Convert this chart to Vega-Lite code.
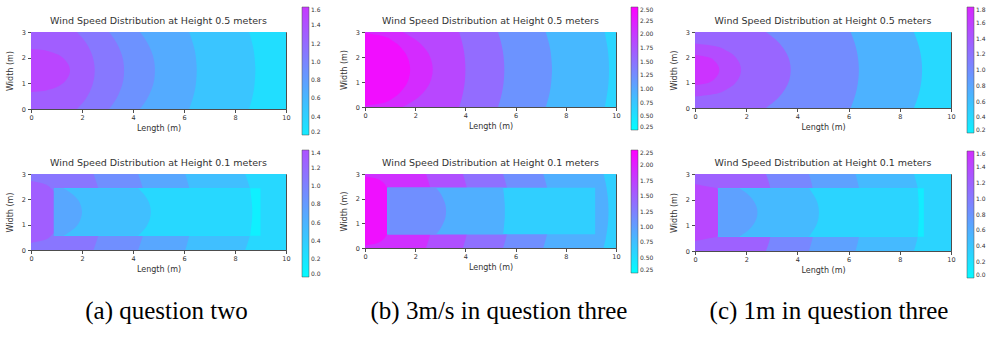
{
"$schema": "https://vega.github.io/schema/vega-lite/v6.json",
"background": "white",
"padding": {"left": 6, "top": 7, "right": 0, "bottom": 0},
"columns": 6,
"align": "none",
"bounds": "flush",
"spacing": {"row": 0, "column": 0},
"resolve": {"scale": {"color": "independent", "x": "independent", "y": "independent"}, "legend": {"color": "independent"}},
"datasets": {
"a1bg": [{"x0": 0, "x": 10, "y0": 0, "y": 3, "v": 0.3}],
"a1o": [
{"b":1,"v":0.5,"x0":0,"y":0,"x":8.55},{"b":1,"v":0.5,"x0":0,"y":0.375,"x":8.66},{"b":1,"v":0.5,"x0":0,"y":0.75,"x":8.74},{"b":1,"v":0.5,"x0":0,"y":1.125,"x":8.78},{"b":1,"v":0.5,"x0":0,"y":1.5,"x":8.8},{"b":1,"v":0.5,"x0":0,"y":1.875,"x":8.78},{"b":1,"v":0.5,"x0":0,"y":2.25,"x":8.74},{"b":1,"v":0.5,"x0":0,"y":2.625,"x":8.66},{"b":1,"v":0.5,"x0":0,"y":3,"x":8.55},
{"b":2,"v":0.7,"x0":0,"y":0,"x":6.2},{"b":2,"v":0.7,"x0":0,"y":0.375,"x":6.33},{"b":2,"v":0.7,"x0":0,"y":0.75,"x":6.43},{"b":2,"v":0.7,"x0":0,"y":1.125,"x":6.48},{"b":2,"v":0.7,"x0":0,"y":1.5,"x":6.5},{"b":2,"v":0.7,"x0":0,"y":1.875,"x":6.48},{"b":2,"v":0.7,"x0":0,"y":2.25,"x":6.43},{"b":2,"v":0.7,"x0":0,"y":2.625,"x":6.33},{"b":2,"v":0.7,"x0":0,"y":3,"x":6.2},
{"b":3,"v":0.9,"x0":0,"y":0,"x":4.27},{"b":3,"v":0.9,"x0":0,"y":0.375,"x":4.54},{"b":3,"v":0.9,"x0":0,"y":0.75,"x":4.72},{"b":3,"v":0.9,"x0":0,"y":1.125,"x":4.83},{"b":3,"v":0.9,"x0":0,"y":1.5,"x":4.86},{"b":3,"v":0.9,"x0":0,"y":1.875,"x":4.83},{"b":3,"v":0.9,"x0":0,"y":2.25,"x":4.72},{"b":3,"v":0.9,"x0":0,"y":2.625,"x":4.54},{"b":3,"v":0.9,"x0":0,"y":3,"x":4.27},
{"b":4,"v":1.1,"x0":0,"y":0,"x":3.06},{"b":4,"v":1.1,"x0":0,"y":0.375,"x":3.33},{"b":4,"v":1.1,"x0":0,"y":0.75,"x":3.51},{"b":4,"v":1.1,"x0":0,"y":1.125,"x":3.62},{"b":4,"v":1.1,"x0":0,"y":1.5,"x":3.65},{"b":4,"v":1.1,"x0":0,"y":1.875,"x":3.62},{"b":4,"v":1.1,"x0":0,"y":2.25,"x":3.51},{"b":4,"v":1.1,"x0":0,"y":2.625,"x":3.33},{"b":4,"v":1.1,"x0":0,"y":3,"x":3.06},
{"b":5,"v":1.3,"x0":0,"y":0,"x":1.8},{"b":5,"v":1.3,"x0":0,"y":0.375,"x":2.13},{"b":5,"v":1.3,"x0":0,"y":0.75,"x":2.34},{"b":5,"v":1.3,"x0":0,"y":1.125,"x":2.46},{"b":5,"v":1.3,"x0":0,"y":1.5,"x":2.5},{"b":5,"v":1.3,"x0":0,"y":1.875,"x":2.46},{"b":5,"v":1.3,"x0":0,"y":2.25,"x":2.34},{"b":5,"v":1.3,"x0":0,"y":2.625,"x":2.13},{"b":5,"v":1.3,"x0":0,"y":3,"x":1.8},
{"b":6,"v":1.5,"x0":0,"y":0.66,"x":0},{"b":6,"v":1.5,"x0":0,"y":0.7,"x":0.47},{"b":6,"v":1.5,"x0":0,"y":0.75,"x":0.69},{"b":6,"v":1.5,"x0":0,"y":1.125,"x":1.37},{"b":6,"v":1.5,"x0":0,"y":1.5,"x":1.53},{"b":6,"v":1.5,"x0":0,"y":1.875,"x":1.37},{"b":6,"v":1.5,"x0":0,"y":2.25,"x":0.69},{"b":6,"v":1.5,"x0":0,"y":2.3,"x":0.47},{"b":6,"v":1.5,"x0":0,"y":2.34,"x":0}
],
"a2bg": [{"x0": 0, "x": 10, "y0": 0, "y": 3, "v": 0.3}],
"a2o": [
{"b":1,"v":0.5,"x0":0,"y":0,"x":8.4},{"b":1,"v":0.5,"x0":0,"y":0.375,"x":8.53},{"b":1,"v":0.5,"x0":0,"y":0.75,"x":8.63},{"b":1,"v":0.5,"x0":0,"y":1.125,"x":8.68},{"b":1,"v":0.5,"x0":0,"y":1.5,"x":8.7},{"b":1,"v":0.5,"x0":0,"y":1.875,"x":8.68},{"b":1,"v":0.5,"x0":0,"y":2.25,"x":8.63},{"b":1,"v":0.5,"x0":0,"y":2.625,"x":8.53},{"b":1,"v":0.5,"x0":0,"y":3,"x":8.4},
{"b":2,"v":0.7,"x0":0,"y":0,"x":6.05},{"b":2,"v":0.7,"x0":0,"y":0.375,"x":6.16},{"b":2,"v":0.7,"x0":0,"y":0.75,"x":6.24},{"b":2,"v":0.7,"x0":0,"y":1.125,"x":6.28},{"b":2,"v":0.7,"x0":0,"y":1.5,"x":6.3},{"b":2,"v":0.7,"x0":0,"y":1.875,"x":6.28},{"b":2,"v":0.7,"x0":0,"y":2.25,"x":6.24},{"b":2,"v":0.7,"x0":0,"y":2.625,"x":6.16},{"b":2,"v":0.7,"x0":0,"y":3,"x":6.05},
{"b":3,"v":0.9,"x0":0,"y":0,"x":4.2},{"b":3,"v":0.9,"x0":0,"y":0.375,"x":4.33},{"b":3,"v":0.9,"x0":0,"y":0.75,"x":4.43},{"b":3,"v":0.9,"x0":0,"y":1.125,"x":4.48},{"b":3,"v":0.9,"x0":0,"y":1.5,"x":4.5},{"b":3,"v":0.9,"x0":0,"y":1.875,"x":4.48},{"b":3,"v":0.9,"x0":0,"y":2.25,"x":4.43},{"b":3,"v":0.9,"x0":0,"y":2.625,"x":4.33},{"b":3,"v":0.9,"x0":0,"y":3,"x":4.2},
{"b":4,"v":1.1,"x0":0,"y":0,"x":2.45},{"b":4,"v":1.1,"x0":0,"y":0.375,"x":2.58},{"b":4,"v":1.1,"x0":0,"y":0.75,"x":2.68},{"b":4,"v":1.1,"x0":0,"y":1.125,"x":2.73},{"b":4,"v":1.1,"x0":0,"y":1.5,"x":2.75},{"b":4,"v":1.1,"x0":0,"y":1.875,"x":2.73},{"b":4,"v":1.1,"x0":0,"y":2.25,"x":2.68},{"b":4,"v":1.1,"x0":0,"y":2.625,"x":2.58},{"b":4,"v":1.1,"x0":0,"y":3,"x":2.45},
{"b":5,"v":1.3,"x0":0,"y":0.28,"x":0},{"b":5,"v":1.3,"x0":0,"y":0.4,"x":0.55},{"b":5,"v":1.3,"x0":0,"y":0.58,"x":0.8},{"b":5,"v":1.3,"x0":0,"y":0.9,"x":1.0},{"b":5,"v":1.3,"x0":0,"y":1.5,"x":1.05},{"b":5,"v":1.3,"x0":0,"y":2.1,"x":1.0},{"b":5,"v":1.3,"x0":0,"y":2.42,"x":0.8},{"b":5,"v":1.3,"x0":0,"y":2.6,"x":0.55},{"b":5,"v":1.3,"x0":0,"y":2.72,"x":0}
],
"a2box": [{"x0": 0.9, "x": 9.0, "y0": 0.56, "y": 2.44, "v": 0.1}],
"a2i": [
{"b":1,"v":0.3,"x0":0.9,"y":0.56,"x":8.6},{"b":1,"v":0.3,"x0":0.9,"y":0.795,"x":8.62},{"b":1,"v":0.3,"x0":0.9,"y":1.03,"x":8.65},{"b":1,"v":0.3,"x0":0.9,"y":1.265,"x":8.67},{"b":1,"v":0.3,"x0":0.9,"y":1.5,"x":8.68},{"b":1,"v":0.3,"x0":0.9,"y":1.735,"x":8.67},{"b":1,"v":0.3,"x0":0.9,"y":1.97,"x":8.65},{"b":1,"v":0.3,"x0":0.9,"y":2.205,"x":8.62},{"b":1,"v":0.3,"x0":0.9,"y":2.44,"x":8.6},
{"b":2,"v":0.5,"x0":0.9,"y":0.56,"x":4.2},{"b":2,"v":0.5,"x0":0.9,"y":0.795,"x":4.43},{"b":2,"v":0.5,"x0":0.9,"y":1.03,"x":4.58},{"b":2,"v":0.5,"x0":0.9,"y":1.265,"x":4.67},{"b":2,"v":0.5,"x0":0.9,"y":1.5,"x":4.7},{"b":2,"v":0.5,"x0":0.9,"y":1.735,"x":4.67},{"b":2,"v":0.5,"x0":0.9,"y":1.97,"x":4.58},{"b":2,"v":0.5,"x0":0.9,"y":2.205,"x":4.43},{"b":2,"v":0.5,"x0":0.9,"y":2.44,"x":4.2},
{"b":3,"v":0.7,"x0":0.9,"y":0.56,"x":1.28},{"b":3,"v":0.7,"x0":0.9,"y":0.795,"x":1.63},{"b":3,"v":0.7,"x0":0.9,"y":1.03,"x":1.85},{"b":3,"v":0.7,"x0":0.9,"y":1.265,"x":1.96},{"b":3,"v":0.7,"x0":0.9,"y":1.5,"x":2.0},{"b":3,"v":0.7,"x0":0.9,"y":1.735,"x":1.96},{"b":3,"v":0.7,"x0":0.9,"y":1.97,"x":1.85},{"b":3,"v":0.7,"x0":0.9,"y":2.205,"x":1.63},{"b":3,"v":0.7,"x0":0.9,"y":2.44,"x":1.28}
],
"b1bg": [{"x0": 0, "x": 10, "y0": 0, "y": 3, "v": 0.625}],
"b1o": [
{"b":1,"v":0.875,"x0":0,"y":0,"x":9.55},{"b":1,"v":0.875,"x0":0,"y":0.375,"x":9.62},{"b":1,"v":0.875,"x0":0,"y":0.75,"x":9.68},{"b":1,"v":0.875,"x0":0,"y":1.125,"x":9.71},{"b":1,"v":0.875,"x0":0,"y":1.5,"x":9.72},{"b":1,"v":0.875,"x0":0,"y":1.875,"x":9.71},{"b":1,"v":0.875,"x0":0,"y":2.25,"x":9.68},{"b":1,"v":0.875,"x0":0,"y":2.625,"x":9.62},{"b":1,"v":0.875,"x0":0,"y":3,"x":9.55},
{"b":2,"v":1.2,"x0":0,"y":0,"x":7.2},{"b":2,"v":1.2,"x0":0,"y":0.375,"x":7.31},{"b":2,"v":1.2,"x0":0,"y":0.75,"x":7.39},{"b":2,"v":1.2,"x0":0,"y":1.125,"x":7.43},{"b":2,"v":1.2,"x0":0,"y":1.5,"x":7.45},{"b":2,"v":1.2,"x0":0,"y":1.875,"x":7.43},{"b":2,"v":1.2,"x0":0,"y":2.25,"x":7.39},{"b":2,"v":1.2,"x0":0,"y":2.625,"x":7.31},{"b":2,"v":1.2,"x0":0,"y":3,"x":7.2},
{"b":3,"v":1.55,"x0":0,"y":0,"x":5.3},{"b":3,"v":1.55,"x0":0,"y":0.375,"x":5.41},{"b":3,"v":1.55,"x0":0,"y":0.75,"x":5.49},{"b":3,"v":1.55,"x0":0,"y":1.125,"x":5.535},{"b":3,"v":1.55,"x0":0,"y":1.5,"x":5.55},{"b":3,"v":1.55,"x0":0,"y":1.875,"x":5.535},{"b":3,"v":1.55,"x0":0,"y":2.25,"x":5.49},{"b":3,"v":1.55,"x0":0,"y":2.625,"x":5.41},{"b":3,"v":1.55,"x0":0,"y":3,"x":5.3},
{"b":4,"v":1.875,"x0":0,"y":0,"x":3.75},{"b":4,"v":1.875,"x0":0,"y":0.375,"x":3.86},{"b":4,"v":1.875,"x0":0,"y":0.75,"x":3.94},{"b":4,"v":1.875,"x0":0,"y":1.125,"x":3.985},{"b":4,"v":1.875,"x0":0,"y":1.5,"x":4.0},{"b":4,"v":1.875,"x0":0,"y":1.875,"x":3.985},{"b":4,"v":1.875,"x0":0,"y":2.25,"x":3.94},{"b":4,"v":1.875,"x0":0,"y":2.625,"x":3.86},{"b":4,"v":1.875,"x0":0,"y":3,"x":3.75},
{"b":5,"v":2.125,"x0":0,"y":0,"x":1.5},{"b":5,"v":2.125,"x0":0,"y":0.375,"x":2.11},{"b":5,"v":2.125,"x0":0,"y":0.75,"x":2.46},{"b":5,"v":2.125,"x0":0,"y":1.125,"x":2.64},{"b":5,"v":2.125,"x0":0,"y":1.5,"x":2.7},{"b":5,"v":2.125,"x0":0,"y":1.875,"x":2.64},{"b":5,"v":2.125,"x0":0,"y":2.25,"x":2.46},{"b":5,"v":2.125,"x0":0,"y":2.625,"x":2.11},{"b":5,"v":2.125,"x0":0,"y":3,"x":1.5},
{"b":6,"v":2.375,"x0":0,"y":0.05,"x":0},{"b":6,"v":2.375,"x0":0,"y":0.15,"x":0.66},{"b":6,"v":2.375,"x0":0,"y":0.375,"x":1.14},{"b":6,"v":2.375,"x0":0,"y":0.75,"x":1.54},{"b":6,"v":2.375,"x0":0,"y":1.125,"x":1.74},{"b":6,"v":2.375,"x0":0,"y":1.5,"x":1.8},{"b":6,"v":2.375,"x0":0,"y":1.875,"x":1.74},{"b":6,"v":2.375,"x0":0,"y":2.25,"x":1.54},{"b":6,"v":2.375,"x0":0,"y":2.625,"x":1.14},{"b":6,"v":2.375,"x0":0,"y":2.85,"x":0.66},{"b":6,"v":2.375,"x0":0,"y":2.95,"x":0}
],
"b2bg": [{"x0": 0, "x": 10, "y0": 0, "y": 3, "v": 0.625}],
"b2o": [
{"b":1,"v":0.875,"x0":0,"y":0,"x":9.5},{"b":1,"v":0.875,"x0":0,"y":0.375,"x":9.59},{"b":1,"v":0.875,"x0":0,"y":0.75,"x":9.65},{"b":1,"v":0.875,"x0":0,"y":1.125,"x":9.69},{"b":1,"v":0.875,"x0":0,"y":1.5,"x":9.7},{"b":1,"v":0.875,"x0":0,"y":1.875,"x":9.69},{"b":1,"v":0.875,"x0":0,"y":2.25,"x":9.65},{"b":1,"v":0.875,"x0":0,"y":2.625,"x":9.59},{"b":1,"v":0.875,"x0":0,"y":3,"x":9.5},
{"b":2,"v":1.125,"x0":0,"y":0,"x":7.1},{"b":2,"v":1.125,"x0":0,"y":0.375,"x":7.21},{"b":2,"v":1.125,"x0":0,"y":0.75,"x":7.29},{"b":2,"v":1.125,"x0":0,"y":1.125,"x":7.33},{"b":2,"v":1.125,"x0":0,"y":1.5,"x":7.35},{"b":2,"v":1.125,"x0":0,"y":1.875,"x":7.33},{"b":2,"v":1.125,"x0":0,"y":2.25,"x":7.29},{"b":2,"v":1.125,"x0":0,"y":2.625,"x":7.21},{"b":2,"v":1.125,"x0":0,"y":3,"x":7.1},
{"b":3,"v":1.375,"x0":0,"y":0,"x":5.5},{"b":3,"v":1.375,"x0":0,"y":0.375,"x":5.61},{"b":3,"v":1.375,"x0":0,"y":0.75,"x":5.69},{"b":3,"v":1.375,"x0":0,"y":1.125,"x":5.73},{"b":3,"v":1.375,"x0":0,"y":1.5,"x":5.75},{"b":3,"v":1.375,"x0":0,"y":1.875,"x":5.73},{"b":3,"v":1.375,"x0":0,"y":2.25,"x":5.69},{"b":3,"v":1.375,"x0":0,"y":2.625,"x":5.61},{"b":3,"v":1.375,"x0":0,"y":3,"x":5.5},
{"b":4,"v":1.625,"x0":0,"y":0,"x":3.9},{"b":4,"v":1.625,"x0":0,"y":0.375,"x":4.01},{"b":4,"v":1.625,"x0":0,"y":0.75,"x":4.09},{"b":4,"v":1.625,"x0":0,"y":1.125,"x":4.13},{"b":4,"v":1.625,"x0":0,"y":1.5,"x":4.15},{"b":4,"v":1.625,"x0":0,"y":1.875,"x":4.13},{"b":4,"v":1.625,"x0":0,"y":2.25,"x":4.09},{"b":4,"v":1.625,"x0":0,"y":2.625,"x":4.01},{"b":4,"v":1.625,"x0":0,"y":3,"x":3.9},
{"b":5,"v":1.875,"x0":0,"y":0,"x":2.43},{"b":5,"v":1.875,"x0":0,"y":0.375,"x":2.55},{"b":5,"v":1.875,"x0":0,"y":0.75,"x":2.64},{"b":5,"v":1.875,"x0":0,"y":1.125,"x":2.68},{"b":5,"v":1.875,"x0":0,"y":1.5,"x":2.7},{"b":5,"v":1.875,"x0":0,"y":1.875,"x":2.68},{"b":5,"v":1.875,"x0":0,"y":2.25,"x":2.64},{"b":5,"v":1.875,"x0":0,"y":2.625,"x":2.55},{"b":5,"v":1.875,"x0":0,"y":3,"x":2.43},
{"b":6,"v":2.125,"x0":0,"y":0.1,"x":0},{"b":6,"v":2.125,"x0":0,"y":0.2,"x":0.5},{"b":6,"v":2.125,"x0":0,"y":0.56,"x":0.88},{"b":6,"v":2.125,"x0":0,"y":1.0,"x":1.0},{"b":6,"v":2.125,"x0":0,"y":1.5,"x":1.05},{"b":6,"v":2.125,"x0":0,"y":2.0,"x":1.0},{"b":6,"v":2.125,"x0":0,"y":2.44,"x":0.88},{"b":6,"v":2.125,"x0":0,"y":2.8,"x":0.5},{"b":6,"v":2.125,"x0":0,"y":2.9,"x":0}
],
"b2box": [{"x0": 0.89, "x": 9.17, "y0": 0.56, "y": 2.44, "v": 0.625}],
"b2i": [
{"b":1,"v":0.875,"x0":0.89,"y":0.56,"x":5.5},{"b":1,"v":0.875,"x0":0.89,"y":0.795,"x":5.53},{"b":1,"v":0.875,"x0":0.89,"y":1.03,"x":5.55},{"b":1,"v":0.875,"x0":0.89,"y":1.265,"x":5.57},{"b":1,"v":0.875,"x0":0.89,"y":1.5,"x":5.57},{"b":1,"v":0.875,"x0":0.89,"y":1.735,"x":5.57},{"b":1,"v":0.875,"x0":0.89,"y":1.97,"x":5.55},{"b":1,"v":0.875,"x0":0.89,"y":2.205,"x":5.53},{"b":1,"v":0.875,"x0":0.89,"y":2.44,"x":5.5},
{"b":2,"v":1.125,"x0":0.89,"y":0.56,"x":2.83},{"b":2,"v":1.125,"x0":0.89,"y":0.795,"x":3.01},{"b":2,"v":1.125,"x0":0.89,"y":1.03,"x":3.13},{"b":2,"v":1.125,"x0":0.89,"y":1.265,"x":3.21},{"b":2,"v":1.125,"x0":0.89,"y":1.5,"x":3.23},{"b":2,"v":1.125,"x0":0.89,"y":1.735,"x":3.21},{"b":2,"v":1.125,"x0":0.89,"y":1.97,"x":3.13},{"b":2,"v":1.125,"x0":0.89,"y":2.205,"x":3.01},{"b":2,"v":1.125,"x0":0.89,"y":2.44,"x":2.83}
],
"c1bg": [{"x0": 0, "x": 10, "y0": 0, "y": 3, "v": 0.4}],
"c1o": [
{"b":1,"v":0.7,"x0":0,"y":0,"x":8.55},{"b":1,"v":0.7,"x0":0,"y":0.375,"x":8.69},{"b":1,"v":0.7,"x0":0,"y":0.75,"x":8.79},{"b":1,"v":0.7,"x0":0,"y":1.125,"x":8.85},{"b":1,"v":0.7,"x0":0,"y":1.5,"x":8.87},{"b":1,"v":0.7,"x0":0,"y":1.875,"x":8.85},{"b":1,"v":0.7,"x0":0,"y":2.25,"x":8.79},{"b":1,"v":0.7,"x0":0,"y":2.625,"x":8.69},{"b":1,"v":0.7,"x0":0,"y":3,"x":8.55},
{"b":2,"v":1.0,"x0":0,"y":0,"x":6.08},{"b":2,"v":1.0,"x0":0,"y":0.375,"x":6.22},{"b":2,"v":1.0,"x0":0,"y":0.75,"x":6.32},{"b":2,"v":1.0,"x0":0,"y":1.125,"x":6.38},{"b":2,"v":1.0,"x0":0,"y":1.5,"x":6.4},{"b":2,"v":1.0,"x0":0,"y":1.875,"x":6.38},{"b":2,"v":1.0,"x0":0,"y":2.25,"x":6.32},{"b":2,"v":1.0,"x0":0,"y":2.625,"x":6.22},{"b":2,"v":1.0,"x0":0,"y":3,"x":6.08},
{"b":3,"v":1.3,"x0":0,"y":0,"x":2.77},{"b":3,"v":1.3,"x0":0,"y":0.375,"x":3.23},{"b":3,"v":1.3,"x0":0,"y":0.75,"x":3.52},{"b":3,"v":1.3,"x0":0,"y":1.125,"x":3.69},{"b":3,"v":1.3,"x0":0,"y":1.5,"x":3.74},{"b":3,"v":1.3,"x0":0,"y":1.875,"x":3.69},{"b":3,"v":1.3,"x0":0,"y":2.25,"x":3.52},{"b":3,"v":1.3,"x0":0,"y":2.625,"x":3.23},{"b":3,"v":1.3,"x0":0,"y":3,"x":2.77},
{"b":4,"v":1.5,"x0":0,"y":0.45,"x":0},{"b":4,"v":1.5,"x0":0,"y":0.55,"x":0.77},{"b":4,"v":1.5,"x0":0,"y":0.75,"x":1.26},{"b":4,"v":1.5,"x0":0,"y":1.125,"x":1.68},{"b":4,"v":1.5,"x0":0,"y":1.5,"x":1.8},{"b":4,"v":1.5,"x0":0,"y":1.875,"x":1.68},{"b":4,"v":1.5,"x0":0,"y":2.25,"x":1.26},{"b":4,"v":1.5,"x0":0,"y":2.45,"x":0.77},{"b":4,"v":1.5,"x0":0,"y":2.55,"x":0},
{"b":5,"v":1.7,"x0":0,"y":0.9,"x":0},{"b":5,"v":1.7,"x0":0,"y":1.0,"x":0.53},{"b":5,"v":1.7,"x0":0,"y":1.125,"x":0.74},{"b":5,"v":1.7,"x0":0,"y":1.5,"x":0.95},{"b":5,"v":1.7,"x0":0,"y":1.875,"x":0.74},{"b":5,"v":1.7,"x0":0,"y":2.0,"x":0.53},{"b":5,"v":1.7,"x0":0,"y":2.1,"x":0}
],
"c2bg": [{"x0": 0, "x": 10, "y0": 0, "y": 3, "v": 0.3}],
"c2o": [
{"b":1,"v":0.5,"x0":0,"y":0,"x":8.55},{"b":1,"v":0.5,"x0":0,"y":0.375,"x":8.66},{"b":1,"v":0.5,"x0":0,"y":0.75,"x":8.74},{"b":1,"v":0.5,"x0":0,"y":1.125,"x":8.78},{"b":1,"v":0.5,"x0":0,"y":1.5,"x":8.8},{"b":1,"v":0.5,"x0":0,"y":1.875,"x":8.78},{"b":1,"v":0.5,"x0":0,"y":2.25,"x":8.74},{"b":1,"v":0.5,"x0":0,"y":2.625,"x":8.66},{"b":1,"v":0.5,"x0":0,"y":3,"x":8.55},
{"b":2,"v":0.7,"x0":0,"y":0,"x":6.27},{"b":2,"v":0.7,"x0":0,"y":0.375,"x":6.37},{"b":2,"v":0.7,"x0":0,"y":0.75,"x":6.44},{"b":2,"v":0.7,"x0":0,"y":1.125,"x":6.49},{"b":2,"v":0.7,"x0":0,"y":1.5,"x":6.5},{"b":2,"v":0.7,"x0":0,"y":1.875,"x":6.49},{"b":2,"v":0.7,"x0":0,"y":2.25,"x":6.44},{"b":2,"v":0.7,"x0":0,"y":2.625,"x":6.37},{"b":2,"v":0.7,"x0":0,"y":3,"x":6.27},
{"b":3,"v":0.9,"x0":0,"y":0,"x":4.45},{"b":3,"v":0.9,"x0":0,"y":0.375,"x":4.56},{"b":3,"v":0.9,"x0":0,"y":0.75,"x":4.64},{"b":3,"v":0.9,"x0":0,"y":1.125,"x":4.68},{"b":3,"v":0.9,"x0":0,"y":1.5,"x":4.7},{"b":3,"v":0.9,"x0":0,"y":1.875,"x":4.68},{"b":3,"v":0.9,"x0":0,"y":2.25,"x":4.64},{"b":3,"v":0.9,"x0":0,"y":2.625,"x":4.56},{"b":3,"v":0.9,"x0":0,"y":3,"x":4.45},
{"b":4,"v":1.2,"x0":0,"y":0,"x":2.77},{"b":4,"v":1.2,"x0":0,"y":0.375,"x":2.9},{"b":4,"v":1.2,"x0":0,"y":0.75,"x":2.98},{"b":4,"v":1.2,"x0":0,"y":1.125,"x":3.03},{"b":4,"v":1.2,"x0":0,"y":1.5,"x":3.05},{"b":4,"v":1.2,"x0":0,"y":1.875,"x":3.03},{"b":4,"v":1.2,"x0":0,"y":2.25,"x":2.98},{"b":4,"v":1.2,"x0":0,"y":2.625,"x":2.9},{"b":4,"v":1.2,"x0":0,"y":3,"x":2.77},
{"b":5,"v":1.4,"x0":0,"y":0.39,"x":0},{"b":5,"v":1.4,"x0":0,"y":0.5,"x":0.55},{"b":5,"v":1.4,"x0":0,"y":0.56,"x":0.85},{"b":5,"v":1.4,"x0":0,"y":1.0,"x":1.0},{"b":5,"v":1.4,"x0":0,"y":1.5,"x":1.05},{"b":5,"v":1.4,"x0":0,"y":2.0,"x":1.0},{"b":5,"v":1.4,"x0":0,"y":2.44,"x":0.85},{"b":5,"v":1.4,"x0":0,"y":2.5,"x":0.55},{"b":5,"v":1.4,"x0":0,"y":2.61,"x":0}
],
"c2box": [{"x0": 0.92, "x": 8.94, "y0": 0.56, "y": 2.44, "v": 0.1}],
"c2i": [
{"b":1,"v":0.3,"x0":0.92,"y":0.56,"x":8.7},{"b":1,"v":0.3,"x0":0.92,"y":0.795,"x":8.72},{"b":1,"v":0.3,"x0":0.92,"y":1.03,"x":8.73},{"b":1,"v":0.3,"x0":0.92,"y":1.265,"x":8.74},{"b":1,"v":0.3,"x0":0.92,"y":1.5,"x":8.74},{"b":1,"v":0.3,"x0":0.92,"y":1.735,"x":8.74},{"b":1,"v":0.3,"x0":0.92,"y":1.97,"x":8.73},{"b":1,"v":0.3,"x0":0.92,"y":2.205,"x":8.72},{"b":1,"v":0.3,"x0":0.92,"y":2.44,"x":8.7},
{"b":2,"v":0.5,"x0":0.92,"y":0.56,"x":4.45},{"b":2,"v":0.5,"x0":0.92,"y":0.795,"x":4.62},{"b":2,"v":0.5,"x0":0.92,"y":1.03,"x":4.75},{"b":2,"v":0.5,"x0":0.92,"y":1.265,"x":4.82},{"b":2,"v":0.5,"x0":0.92,"y":1.5,"x":4.84},{"b":2,"v":0.5,"x0":0.92,"y":1.735,"x":4.82},{"b":2,"v":0.5,"x0":0.92,"y":1.97,"x":4.75},{"b":2,"v":0.5,"x0":0.92,"y":2.205,"x":4.62},{"b":2,"v":0.5,"x0":0.92,"y":2.44,"x":4.45},
{"b":3,"v":0.7,"x0":0.92,"y":0.56,"x":1.73},{"b":3,"v":0.7,"x0":0.92,"y":0.795,"x":2.07},{"b":3,"v":0.7,"x0":0.92,"y":1.03,"x":2.28},{"b":3,"v":0.7,"x0":0.92,"y":1.265,"x":2.4},{"b":3,"v":0.7,"x0":0.92,"y":1.5,"x":2.44},{"b":3,"v":0.7,"x0":0.92,"y":1.735,"x":2.4},{"b":3,"v":0.7,"x0":0.92,"y":1.97,"x":2.28},{"b":3,"v":0.7,"x0":0.92,"y":2.205,"x":2.07},{"b":3,"v":0.7,"x0":0.92,"y":2.44,"x":1.73}
]
},
"concat": [
{"width": 255, "height": 1, "data": {"values": [{"s": 0}]}, "mark": {"type": "point", "opacity": 0}, "encoding": {}, "view": {"stroke": null}},
{"width": 79, "height": 1, "data": {"values": [{"s": 0}]}, "mark": {"type": "point", "opacity": 0}, "encoding": {}, "view": {"stroke": null}},
{"width": 251, "height": 6, "data": {"values": [{"s": 0}]}, "mark": {"type": "point", "opacity": 0}, "encoding": {}, "view": {"stroke": null}},
{"width": 79, "height": 6, "data": {"values": [{"s": 0}]}, "mark": {"type": "point", "opacity": 0}, "encoding": {}, "view": {"stroke": null}},
{"width": 256, "height": 1, "data": {"values": [{"s": 0}]}, "mark": {"type": "point", "opacity": 0}, "encoding": {}, "view": {"stroke": null}},
{"width": 40, "height": 1, "data": {"values": [{"s": 0}]}, "mark": {"type": "point", "opacity": 0}, "encoding": {}, "view": {"stroke": null}},

{"width": 255, "height": 77, "title": "Wind Speed Distribution at Height 0.5 meters",
 "encoding": {
  "x": {"field": "x", "type": "quantitative", "stack": null, "title": "Length (m)", "scale": {"domain": [0, 10], "nice": false, "zero": false}, "axis": {"values": [0, 2, 4, 6, 8, 10]}},
  "y": {"field": "y", "type": "quantitative", "title": "Width (m)", "scale": {"domain": [0, 3], "nice": false, "zero": false}, "axis": {"values": [0, 1, 2, 3]}},
  "color": {"field": "v", "type": "quantitative", "scale": {"domain": [0.2, 1.6], "range": ["#14ebff", "#c738ff"], "interpolate": "rgb"}, "legend": null}},
 "layer": [
  {"data": {"name": "a1bg"}, "mark": {"type": "rect", "clip": true}, "encoding": {"x": {"field": "x0", "type": "quantitative", "stack": null, "title": "Length (m)", "scale": {"domain": [0, 10], "nice": false, "zero": false}}, "x2": {"field": "x"}, "y": {"field": "y0", "type": "quantitative", "title": "Width (m)", "scale": {"domain": [0, 3], "nice": false, "zero": false}}, "y2": {"field": "y"}}},
  {"data": {"name": "a1o"}, "mark": {"type": "area", "orient": "horizontal", "interpolate": "monotone", "clip": true}, "encoding": {"x2": {"field": "x0"}, "detail": {"field": "b", "type": "nominal"}}}
 ]},
{"width": 79, "height": 77, "data": {"values": [{"v": 0.2}]}, "mark": {"type": "point", "opacity": 0}, "view": {"stroke": null},
 "encoding": {"color": {"field": "v", "type": "quantitative", "scale": {"domain": [0.2, 1.6], "range": ["#14ebff", "#c738ff"], "interpolate": "rgb"}, "legend": {"title": null, "orient": "none", "legendX": 16, "legendY": -25, "gradientLength": 128, "values": [0.2, 0.4, 0.6, 0.8, 1.0, 1.2, 1.4, 1.6], "format": ".1f"}}}},

{"width": 251, "height": 75, "title": "Wind Speed Distribution at Height 0.5 meters",
 "encoding": {
  "x": {"field": "x", "type": "quantitative", "stack": null, "title": "Length (m)", "scale": {"domain": [0, 10], "nice": false, "zero": false}, "axis": {"values": [0, 2, 4, 6, 8, 10]}},
  "y": {"field": "y", "type": "quantitative", "title": "Width (m)", "scale": {"domain": [0, 3], "nice": false, "zero": false}, "axis": {"values": [0, 1, 2, 3]}},
  "color": {"field": "v", "type": "quantitative", "scale": {"domain": [0.25, 2.5], "range": ["#00ffff", "#ff00ff"], "interpolate": "rgb"}, "legend": null}},
 "layer": [
  {"data": {"name": "b1bg"}, "mark": {"type": "rect", "clip": true}, "encoding": {"x": {"field": "x0", "type": "quantitative", "stack": null, "title": "Length (m)", "scale": {"domain": [0, 10], "nice": false, "zero": false}}, "x2": {"field": "x"}, "y": {"field": "y0", "type": "quantitative", "title": "Width (m)", "scale": {"domain": [0, 3], "nice": false, "zero": false}}, "y2": {"field": "y"}}},
  {"data": {"name": "b1o"}, "mark": {"type": "area", "orient": "horizontal", "interpolate": "monotone", "clip": true}, "encoding": {"x2": {"field": "x0"}, "detail": {"field": "b", "type": "nominal"}}}
 ]},
{"width": 79, "height": 75, "data": {"values": [{"v": 0.25}]}, "mark": {"type": "point", "opacity": 0}, "view": {"stroke": null},
 "encoding": {"color": {"field": "v", "type": "quantitative", "scale": {"domain": [0.25, 2.5], "range": ["#00ffff", "#ff00ff"], "interpolate": "rgb"}, "legend": {"title": null, "orient": "none", "legendX": 15, "legendY": -25, "gradientLength": 123, "values": [0.25, 0.5, 0.75, 1.0, 1.25, 1.5, 1.75, 2.0, 2.25, 2.5], "format": ".2f"}}}},

{"width": 256, "height": 76, "title": "Wind Speed Distribution at Height 0.5 meters",
 "encoding": {
  "x": {"field": "x", "type": "quantitative", "stack": null, "title": "Length (m)", "scale": {"domain": [0, 10], "nice": false, "zero": false}, "axis": {"values": [0, 2, 4, 6, 8, 10]}},
  "y": {"field": "y", "type": "quantitative", "title": "Width (m)", "scale": {"domain": [0, 3], "nice": false, "zero": false}, "axis": {"values": [0, 1, 2, 3]}},
  "color": {"field": "v", "type": "quantitative", "scale": {"domain": [0.2, 1.8], "range": ["#0df2ff", "#d926ff"], "interpolate": "rgb"}, "legend": null}},
 "layer": [
  {"data": {"name": "c1bg"}, "mark": {"type": "rect", "clip": true}, "encoding": {"x": {"field": "x0", "type": "quantitative", "stack": null, "title": "Length (m)", "scale": {"domain": [0, 10], "nice": false, "zero": false}}, "x2": {"field": "x"}, "y": {"field": "y0", "type": "quantitative", "title": "Width (m)", "scale": {"domain": [0, 3], "nice": false, "zero": false}}, "y2": {"field": "y"}}},
  {"data": {"name": "c1o"}, "mark": {"type": "area", "orient": "horizontal", "interpolate": "monotone", "clip": true}, "encoding": {"x2": {"field": "x0"}, "detail": {"field": "b", "type": "nominal"}}}
 ]},
{"width": 40, "height": 76, "data": {"values": [{"v": 0.2}]}, "mark": {"type": "point", "opacity": 0}, "view": {"stroke": null},
 "encoding": {"color": {"field": "v", "type": "quantitative", "scale": {"domain": [0.2, 1.8], "range": ["#0df2ff", "#d926ff"], "interpolate": "rgb"}, "legend": {"title": null, "orient": "none", "legendX": 16, "legendY": -25, "gradientLength": 126, "values": [0.2, 0.4, 0.6, 0.8, 1.0, 1.2, 1.4, 1.6, 1.8], "format": ".1f"}}}},

{"width": 255, "height": 65, "data": {"values": [{"s": 0}]}, "mark": {"type": "point", "opacity": 0}, "encoding": {}, "view": {"stroke": null}},
{"width": 79, "height": 65, "data": {"values": [{"s": 0}]}, "mark": {"type": "point", "opacity": 0}, "encoding": {}, "view": {"stroke": null}},
{"width": 251, "height": 64, "data": {"values": [{"s": 0}]}, "mark": {"type": "point", "opacity": 0}, "encoding": {}, "view": {"stroke": null}},
{"width": 79, "height": 64, "data": {"values": [{"s": 0}]}, "mark": {"type": "point", "opacity": 0}, "encoding": {}, "view": {"stroke": null}},
{"width": 256, "height": 65, "data": {"values": [{"s": 0}]}, "mark": {"type": "point", "opacity": 0}, "encoding": {}, "view": {"stroke": null}},
{"width": 40, "height": 65, "data": {"values": [{"s": 0}]}, "mark": {"type": "point", "opacity": 0}, "encoding": {}, "view": {"stroke": null}},

{"width": 255, "height": 76, "title": "Wind Speed Distribution at Height 0.1 meters",
 "encoding": {
  "x": {"field": "x", "type": "quantitative", "stack": null, "title": "Length (m)", "scale": {"domain": [0, 10], "nice": false, "zero": false}, "axis": {"values": [0, 2, 4, 6, 8, 10]}},
  "y": {"field": "y", "type": "quantitative", "title": "Width (m)", "scale": {"domain": [0, 3], "nice": false, "zero": false}, "axis": {"values": [0, 1, 2, 3]}},
  "color": {"field": "v", "type": "quantitative", "scale": {"domain": [0, 1.4], "range": ["#03fcff", "#ad52ff"], "interpolate": "rgb"}, "legend": null}},
 "layer": [
  {"data": {"name": "a2bg"}, "mark": {"type": "rect", "clip": true}, "encoding": {"x": {"field": "x0", "type": "quantitative", "stack": null, "title": "Length (m)", "scale": {"domain": [0, 10], "nice": false, "zero": false}}, "x2": {"field": "x"}, "y": {"field": "y0", "type": "quantitative", "title": "Width (m)", "scale": {"domain": [0, 3], "nice": false, "zero": false}}, "y2": {"field": "y"}}},
  {"data": {"name": "a2o"}, "mark": {"type": "area", "orient": "horizontal", "interpolate": "monotone", "clip": true}, "encoding": {"x2": {"field": "x0"}, "detail": {"field": "b", "type": "nominal"}}},
  {"data": {"name": "a2box"}, "mark": {"type": "rect", "clip": true}, "encoding": {"x": {"field": "x0", "type": "quantitative", "stack": null, "title": "Length (m)", "scale": {"domain": [0, 10], "nice": false, "zero": false}}, "x2": {"field": "x"}, "y": {"field": "y0", "type": "quantitative", "title": "Width (m)", "scale": {"domain": [0, 3], "nice": false, "zero": false}}, "y2": {"field": "y"}}},
  {"data": {"name": "a2i"}, "mark": {"type": "area", "orient": "horizontal", "interpolate": "monotone", "clip": true}, "encoding": {"x2": {"field": "x0"}, "detail": {"field": "b", "type": "nominal"}}}
 ]},
{"width": 79, "height": 76, "data": {"values": [{"v": 0}]}, "mark": {"type": "point", "opacity": 0}, "view": {"stroke": null},
 "encoding": {"color": {"field": "v", "type": "quantitative", "scale": {"domain": [0, 1.4], "range": ["#03fcff", "#ad52ff"], "interpolate": "rgb"}, "legend": {"title": null, "orient": "none", "legendX": 16, "legendY": -24, "gradientLength": 127, "values": [0, 0.2, 0.4, 0.6, 0.8, 1.0, 1.2, 1.4], "format": ".1f"}}}},

{"width": 251, "height": 74, "title": "Wind Speed Distribution at Height 0.1 meters",
 "encoding": {
  "x": {"field": "x", "type": "quantitative", "stack": null, "title": "Length (m)", "scale": {"domain": [0, 10], "nice": false, "zero": false}, "axis": {"values": [0, 2, 4, 6, 8, 10]}},
  "y": {"field": "y", "type": "quantitative", "title": "Width (m)", "scale": {"domain": [0, 3], "nice": false, "zero": false}, "axis": {"values": [0, 1, 2, 3]}},
  "color": {"field": "v", "type": "quantitative", "scale": {"domain": [0.25, 2.25], "range": ["#00ffff", "#ff00ff"], "interpolate": "rgb"}, "legend": null}},
 "layer": [
  {"data": {"name": "b2bg"}, "mark": {"type": "rect", "clip": true}, "encoding": {"x": {"field": "x0", "type": "quantitative", "stack": null, "title": "Length (m)", "scale": {"domain": [0, 10], "nice": false, "zero": false}}, "x2": {"field": "x"}, "y": {"field": "y0", "type": "quantitative", "title": "Width (m)", "scale": {"domain": [0, 3], "nice": false, "zero": false}}, "y2": {"field": "y"}}},
  {"data": {"name": "b2o"}, "mark": {"type": "area", "orient": "horizontal", "interpolate": "monotone", "clip": true}, "encoding": {"x2": {"field": "x0"}, "detail": {"field": "b", "type": "nominal"}}},
  {"data": {"name": "b2box"}, "mark": {"type": "rect", "clip": true}, "encoding": {"x": {"field": "x0", "type": "quantitative", "stack": null, "title": "Length (m)", "scale": {"domain": [0, 10], "nice": false, "zero": false}}, "x2": {"field": "x"}, "y": {"field": "y0", "type": "quantitative", "title": "Width (m)", "scale": {"domain": [0, 3], "nice": false, "zero": false}}, "y2": {"field": "y"}}},
  {"data": {"name": "b2i"}, "mark": {"type": "area", "orient": "horizontal", "interpolate": "monotone", "clip": true}, "encoding": {"x2": {"field": "x0"}, "detail": {"field": "b", "type": "nominal"}}}
 ]},
{"width": 79, "height": 74, "data": {"values": [{"v": 0.25}]}, "mark": {"type": "point", "opacity": 0}, "view": {"stroke": null},
 "encoding": {"color": {"field": "v", "type": "quantitative", "scale": {"domain": [0.25, 2.25], "range": ["#00ffff", "#ff00ff"], "interpolate": "rgb"}, "legend": {"title": null, "orient": "none", "legendX": 15, "legendY": -24, "gradientLength": 123, "values": [0.25, 0.5, 0.75, 1.0, 1.25, 1.5, 1.75, 2.0, 2.25], "format": ".2f"}}}},

{"width": 256, "height": 77, "title": "Wind Speed Distribution at Height 0.1 meters",
 "encoding": {
  "x": {"field": "x", "type": "quantitative", "stack": null, "title": "Length (m)", "scale": {"domain": [0, 10], "nice": false, "zero": false}, "axis": {"values": [0, 2, 4, 6, 8, 10]}},
  "y": {"field": "y", "type": "quantitative", "title": "Width (m)", "scale": {"domain": [0, 3], "nice": false, "zero": false}, "axis": {"values": [0, 1, 2, 3]}},
  "color": {"field": "v", "type": "quantitative", "scale": {"domain": [0, 1.6], "range": ["#05faff", "#d12eff"], "interpolate": "rgb"}, "legend": null}},
 "layer": [
  {"data": {"name": "c2bg"}, "mark": {"type": "rect", "clip": true}, "encoding": {"x": {"field": "x0", "type": "quantitative", "stack": null, "title": "Length (m)", "scale": {"domain": [0, 10], "nice": false, "zero": false}}, "x2": {"field": "x"}, "y": {"field": "y0", "type": "quantitative", "title": "Width (m)", "scale": {"domain": [0, 3], "nice": false, "zero": false}}, "y2": {"field": "y"}}},
  {"data": {"name": "c2o"}, "mark": {"type": "area", "orient": "horizontal", "interpolate": "monotone", "clip": true}, "encoding": {"x2": {"field": "x0"}, "detail": {"field": "b", "type": "nominal"}}},
  {"data": {"name": "c2box"}, "mark": {"type": "rect", "clip": true}, "encoding": {"x": {"field": "x0", "type": "quantitative", "stack": null, "title": "Length (m)", "scale": {"domain": [0, 10], "nice": false, "zero": false}}, "x2": {"field": "x"}, "y": {"field": "y0", "type": "quantitative", "title": "Width (m)", "scale": {"domain": [0, 3], "nice": false, "zero": false}}, "y2": {"field": "y"}}},
  {"data": {"name": "c2i"}, "mark": {"type": "area", "orient": "horizontal", "interpolate": "monotone", "clip": true}, "encoding": {"x2": {"field": "x0"}, "detail": {"field": "b", "type": "nominal"}}}
 ]},
{"width": 40, "height": 77, "data": {"values": [{"v": 0}]}, "mark": {"type": "point", "opacity": 0}, "view": {"stroke": null},
 "encoding": {"color": {"field": "v", "type": "quantitative", "scale": {"domain": [0, 1.6], "range": ["#05faff", "#d12eff"], "interpolate": "rgb"}, "legend": {"title": null, "orient": "none", "legendX": 16, "legendY": -23, "gradientLength": 127, "values": [0, 0.2, 0.4, 0.6, 0.8, 1.0, 1.2, 1.4, 1.6], "format": ".1f"}}}},

{"width": 255, "height": 58, "data": {"values": [{"s": 0}]}, "mark": {"type": "point", "opacity": 0}, "encoding": {}, "view": {"stroke": null}},
{"width": 79, "height": 58, "data": {"values": [{"s": 0}]}, "mark": {"type": "point", "opacity": 0}, "encoding": {}, "view": {"stroke": null}},
{"width": 251, "height": 58, "data": {"values": [{"s": 0}]}, "mark": {"type": "point", "opacity": 0}, "encoding": {}, "view": {"stroke": null}},
{"width": 79, "height": 58, "data": {"values": [{"s": 0}]}, "mark": {"type": "point", "opacity": 0}, "encoding": {}, "view": {"stroke": null}},
{"width": 256, "height": 58, "data": {"values": [{"s": 0}]}, "mark": {"type": "point", "opacity": 0}, "encoding": {}, "view": {"stroke": null}},
{"width": 40, "height": 58, "data": {"values": [{"s": 0}]}, "mark": {"type": "point", "opacity": 0}, "encoding": {}, "view": {"stroke": null}},

{"width": 255, "height": 20, "data": {"values": [{"t": "(a) question two"}]}, "mark": {"type": "text", "font": "Liberation Serif", "fontSize": 25, "baseline": "alphabetic", "dx": 8, "color": "#000000"}, "encoding": {"text": {"field": "t"}}, "view": {"stroke": null}},
{"width": 79, "height": 20, "data": {"values": [{"s": 0}]}, "mark": {"type": "point", "opacity": 0}, "encoding": {}, "view": {"stroke": null}},
{"width": 251, "height": 20, "data": {"values": [{"t": "(b) 3m/s in question three"}]}, "mark": {"type": "text", "font": "Liberation Serif", "fontSize": 25, "baseline": "alphabetic", "dx": 8.5, "color": "#000000"}, "encoding": {"text": {"field": "t"}}, "view": {"stroke": null}},
{"width": 79, "height": 20, "data": {"values": [{"s": 0}]}, "mark": {"type": "point", "opacity": 0}, "encoding": {}, "view": {"stroke": null}},
{"width": 256, "height": 20, "data": {"values": [{"t": "(c) 1m in question three"}]}, "mark": {"type": "text", "font": "Liberation Serif", "fontSize": 25, "baseline": "alphabetic", "dx": 6, "color": "#000000"}, "encoding": {"text": {"field": "t"}}, "view": {"stroke": null}},
{"width": 40, "height": 20, "data": {"values": [{"s": 0}]}, "mark": {"type": "point", "opacity": 0}, "encoding": {}, "view": {"stroke": null}}
],
"config": {
 "font": "DejaVu Sans",
 "view": {"stroke": "#4d4d4d", "strokeWidth": 1},
 "axis": {"labelFontSize": 6.5, "titleFontSize": 8, "titleFontWeight": "normal", "labelColor": "#333333", "titleColor": "#333333", "tickSize": 3.5, "labelPadding": 2, "domainColor": "#4d4d4d", "tickColor": "#4d4d4d", "grid": false, "labelFlush": false, "zindex": 1, "labelFont": "DejaVu Sans", "titleFont": "DejaVu Sans"},
 "axisX": {"titlePadding": 3},
 "axisY": {"titlePadding": 6.5},
 "title": {"fontSize": 9.5, "fontWeight": "normal", "color": "#333333", "offset": 4, "font": "DejaVu Sans"},
 "legend": {"gradientThickness": 7, "labelFontSize": 6, "labelColor": "#333333", "labelOffset": 3, "gradientStrokeColor": "#4d4d4d", "gradientStrokeWidth": 0.5, "labelOverlap": false, "labelBaseline": "middle", "labelFont": "DejaVu Sans"}
}
}
